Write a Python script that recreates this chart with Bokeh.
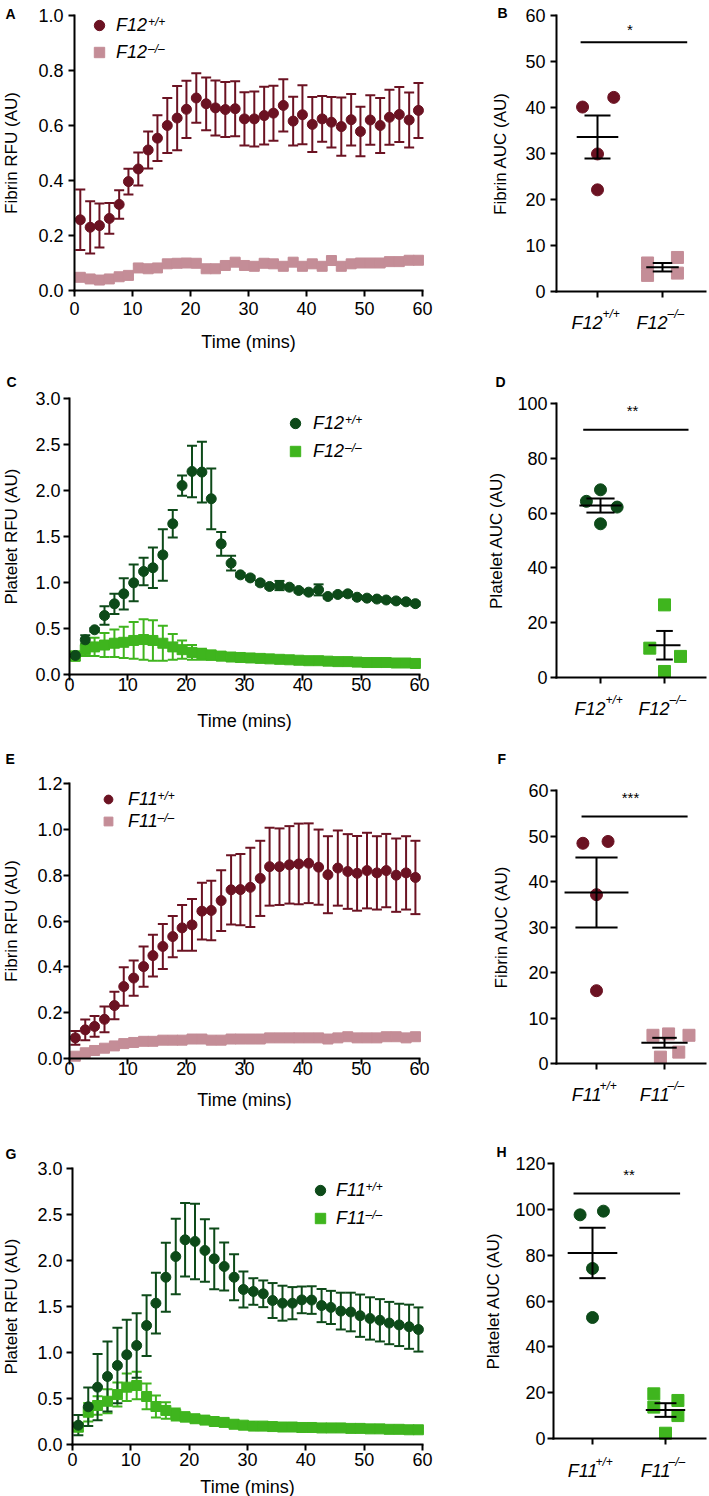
import numpy as np
from bokeh.plotting import figure
from bokeh.models import (Range1d, FixedTicker, NumeralTickFormatter, Whisker, TeeHead,
                          ColumnDataSource, Label, Legend, LegendItem)
from bokeh.layouts import row, column
from bokeh.embed import file_html
from bokeh.resources import INLINE

# ---------------- data ----------------
time_min = [1.0, 2.7, 4.3, 6.0, 7.7, 9.3, 11.0, 12.7, 14.3, 16.0, 17.7, 19.3,
            21.0, 22.7, 24.3, 26.0, 27.7, 29.3, 31.0, 32.7, 34.3, 36.0, 37.7, 39.3,
            41.0, 42.7, 44.3, 46.0, 47.7, 49.3, 51.0, 52.7, 54.3, 56.0, 57.7, 59.3]
time_ticks = [0, 10, 20, 30, 40, 50, 60]

# A: fibrin, F12
fib_f12_wt = [0.257, 0.230, 0.236, 0.262, 0.313, 0.396, 0.442, 0.511, 0.554, 0.600, 0.627, 0.659,
              0.700, 0.679, 0.664, 0.658, 0.661, 0.624, 0.624, 0.636, 0.645, 0.673, 0.616, 0.639,
              0.604, 0.624, 0.612, 0.596, 0.621, 0.578, 0.620, 0.600, 0.630, 0.640, 0.620, 0.655]
fib_f12_wt_sem = [0.110, 0.095, 0.080, 0.056, 0.052, 0.047, 0.060, 0.067, 0.083, 0.100, 0.117, 0.104,
                  0.090, 0.096, 0.100, 0.100, 0.100, 0.097, 0.100, 0.105, 0.100, 0.095, 0.089, 0.107,
                  0.100, 0.083, 0.092, 0.106, 0.094, 0.090, 0.090, 0.100, 0.100, 0.100, 0.100, 0.100]
fib_f12_ko = [0.048, 0.042, 0.038, 0.042, 0.050, 0.055, 0.082, 0.079, 0.082, 0.097, 0.099, 0.100,
              0.099, 0.079, 0.079, 0.091, 0.103, 0.091, 0.088, 0.099, 0.097, 0.088, 0.103, 0.088,
              0.097, 0.088, 0.109, 0.088, 0.097, 0.100, 0.100, 0.100, 0.105, 0.105, 0.110, 0.110]
fib_f12_ko_sem = [0.012] * 36
fib_f12_yticks = [0, 0.2, 0.4, 0.6, 0.8, 1.0]

# C: platelet, F12
plt_f12_wt = [0.207, 0.377, 0.486, 0.641, 0.768, 0.877, 0.996, 1.120, 1.160, 1.300, 1.638, 2.054,
              2.207, 2.200, 1.910, 1.420, 1.210, 1.083, 1.050, 0.996, 0.957, 0.967, 0.949, 0.913,
              0.895, 0.920, 0.848, 0.870, 0.877, 0.840, 0.830, 0.820, 0.810, 0.800, 0.790, 0.770]
plt_f12_wt_sem = [0.02, 0.05, 0.02, 0.10, 0.11, 0.17, 0.20, 0.15, 0.22, 0.28, 0.15, 0.11,
                  0.28, 0.33, 0.33, 0.13, 0.08, 0.02, 0.02, 0.02, 0.02, 0.05, 0.02, 0.02,
                  0.02, 0.06, 0.02, 0.02, 0.02, 0.02, 0.02, 0.02, 0.02, 0.02, 0.02, 0.02]
plt_f12_ko = [0.20, 0.27, 0.30, 0.32, 0.34, 0.35, 0.37, 0.38, 0.37, 0.34, 0.30, 0.27,
              0.24, 0.22, 0.21, 0.20, 0.19, 0.185, 0.18, 0.175, 0.17, 0.165, 0.16, 0.155,
              0.15, 0.15, 0.145, 0.14, 0.14, 0.135, 0.13, 0.13, 0.13, 0.125, 0.125, 0.12]
plt_f12_ko_sem = [0.05, 0.07, 0.10, 0.13, 0.15, 0.17, 0.20, 0.22, 0.22, 0.19, 0.14, 0.10,
                  0.08, 0.06, 0.05, 0.045, 0.04, 0.035, 0.03, 0.03, 0.03, 0.025, 0.025, 0.025,
                  0.02, 0.02, 0.02, 0.02, 0.02, 0.02, 0.02, 0.02, 0.02, 0.02, 0.02, 0.02]
plt_yticks = [0, 0.5, 1.0, 1.5, 2.0, 2.5, 3.0]

# E: fibrin, F11
fib_f11_wt = [0.090, 0.125, 0.140, 0.171, 0.231, 0.314, 0.351, 0.401, 0.449, 0.489, 0.532, 0.570,
              0.583, 0.643, 0.646, 0.689, 0.736, 0.737, 0.747, 0.786, 0.837, 0.837, 0.845, 0.849,
              0.852, 0.835, 0.802, 0.831, 0.816, 0.808, 0.820, 0.810, 0.820, 0.800, 0.810, 0.790]
fib_f11_wt_sem = [0.030, 0.045, 0.045, 0.056, 0.060, 0.084, 0.077, 0.088, 0.091, 0.098, 0.090, 0.100,
                  0.113, 0.124, 0.130, 0.133, 0.151, 0.155, 0.173, 0.164, 0.170, 0.167, 0.169, 0.176,
                  0.174, 0.164, 0.168, 0.164, 0.163, 0.163, 0.165, 0.160, 0.160, 0.160, 0.160, 0.160]
fib_f11_ko = [0.010, 0.025, 0.035, 0.045, 0.055, 0.065, 0.070, 0.075, 0.075, 0.080, 0.080, 0.080,
              0.085, 0.085, 0.080, 0.080, 0.085, 0.085, 0.085, 0.085, 0.090, 0.090, 0.090, 0.090,
              0.090, 0.090, 0.085, 0.090, 0.095, 0.090, 0.090, 0.090, 0.095, 0.095, 0.090, 0.095]
fib_f11_ko_sem = [0.010] * 6 + [0.015] * 30
fib_f11_yticks = [0, 0.2, 0.4, 0.6, 0.8, 1.0, 1.2]

# G: platelet, F11
plt_f11_wt = [0.210, 0.410, 0.623, 0.739, 0.859, 0.975, 1.076, 1.293, 1.536, 1.818, 2.043, 2.225,
              2.207, 2.109, 2.018, 1.935, 1.818, 1.685, 1.663, 1.638, 1.565, 1.536, 1.536, 1.572,
              1.570, 1.510, 1.490, 1.450, 1.440, 1.400, 1.370, 1.350, 1.320, 1.300, 1.280, 1.250]
plt_f11_wt_sem = [0.11, 0.21, 0.36, 0.38, 0.41, 0.38, 0.35, 0.33, 0.33, 0.376, 0.41, 0.40,
                  0.41, 0.34, 0.33, 0.26, 0.25, 0.195, 0.145, 0.145, 0.19, 0.19, 0.175, 0.145,
                  0.15, 0.18, 0.18, 0.20, 0.21, 0.23, 0.23, 0.23, 0.23, 0.23, 0.24, 0.24]
plt_f11_ko = [0.188, 0.351, 0.424, 0.470, 0.543, 0.623, 0.641, 0.522, 0.413, 0.370, 0.326, 0.300,
              0.280, 0.265, 0.250, 0.240, 0.220, 0.210, 0.200, 0.200, 0.195, 0.190, 0.190, 0.185,
              0.185, 0.180, 0.180, 0.180, 0.175, 0.175, 0.170, 0.170, 0.165, 0.165, 0.160, 0.160]
plt_f11_ko_sem = [0.04, 0.10, 0.10, 0.13, 0.13, 0.15, 0.15, 0.14, 0.12, 0.09, 0.065, 0.05,
                  0.04, 0.035, 0.03, 0.03, 0.025, 0.02, 0.02, 0.02, 0.02, 0.02, 0.02, 0.02,
                  0.02, 0.02, 0.02, 0.02, 0.02, 0.02, 0.02, 0.02, 0.02, 0.02, 0.02, 0.02]

# AUC panels (individual animals) and beeswarm offsets
auc_fib_f12_wt = [40.1, 42.2, 29.9, 22.1]
auc_fib_f12_wt_dx = [-0.23, 0.25, 0.0, 0.0]
auc_fib_f12_ko = [6.2, 3.5, 7.4, 4.0]
auc_fib_f12_ko_dx = [-0.23, -0.23, 0.23, 0.23]
auc_fib_yticks = [0, 10, 20, 30, 40, 50, 60]

auc_plt_f12_wt = [64.3, 68.5, 62.2, 56.1]
auc_plt_f12_wt_dx = [-0.22, 0.0, 0.26, 0.0]
auc_plt_f12_ko = [26.5, 10.7, 7.7, 2.2]
auc_plt_f12_ko_dx = [0.0, -0.23, 0.25, 0.0]
auc_plt_f12_yticks = [0, 20, 40, 60, 80, 100]

auc_fib_f11_wt = [48.4, 48.8, 37.1, 16.0]
auc_fib_f11_wt_dx = [-0.2, 0.17, 0.0, 0.0]
auc_fib_f11_ko = [6.2, 6.5, 6.2, 2.5, 1.4]
auc_fib_f11_ko_dx = [-0.17, 0.06, 0.36, 0.21, -0.06]

auc_plt_f11_wt = [97.6, 99.2, 74.2, 52.8]
auc_plt_f11_wt_dx = [-0.17, 0.15, 0.0, 0.0]
auc_plt_f11_ko = [19.5, 16.6, 13.7, 10.0, 2.3]
auc_plt_f11_ko_dx = [-0.16, 0.17, -0.16, 0.17, 0.0]
auc_plt_f11_yticks = [0, 20, 40, 60, 80, 100, 120]

sig_B, sig_D, sig_F, sig_H = 54.2, 90.4, 54.3, 106.9
stars_B, stars_D, stars_F, stars_H = "*", "**", "***", "**"

# ---------------- style / layout ----------------
FONT = "Liberation Sans"
DARK_RED = "#6B1222"
PINK = "#C48D97"
DARK_GREEN = "#0D4A19"
LIGHT_GREEN = "#3FB51E"
LW, RW = 453, 256
GENE_W = {"F12": 31.0, "F11": 28.5}  # visual width of the gene symbol at 18px italic


def lin(va, pa, vb, pb, o, size, flip=False):
    if not flip:
        s = (vb - va) / (pb - pa)
        return va + (o - pa) * s, va + (o + size - pa) * s
    s = (vb - va) / (pa - pb)
    return va - (o + size - pa) * s, va + (pa - o) * s


def make_fig(box, xmap, ymap, yticks, yfmt, ylabel, y_axis_px, y_std, ylab_std, x_end_px):
    ox, oy, W, H = box
    xr = lin(*xmap, ox, W)
    yr = lin(*ymap, oy, H, flip=True)
    p = figure(width=W, height=H, x_range=Range1d(*xr), y_range=Range1d(*yr),
               output_backend="svg", toolbar_location=None,
               min_border_left=0, min_border_right=0, min_border_top=0, min_border_bottom=0)
    p.outline_line_color = None
    p.xgrid.visible = False
    p.ygrid.visible = False
    for ax in p.axis:
        ax.axis_line_width = 2
        ax.axis_line_color = "black"
        ax.axis_line_cap = "square"
        ax.major_tick_line_width = 2
        ax.major_tick_line_color = "black"
        ax.major_tick_out = 6
        ax.major_tick_in = 0
        ax.minor_tick_line_color = None
        ax.major_label_text_font = FONT
        ax.major_label_text_font_size = "18px"
        ax.major_label_text_color = "black"
        ax.axis_label_text_font = FONT
        ax.axis_label_text_font_style = "normal"
        ax.axis_label_text_color = "black"
    va, pa, vb, pb = xmap
    x_axis_val = va + (y_axis_px - pa) * (vb - va) / (pb - pa)
    x_end_val = va + (x_end_px - pa) * (vb - va) / (pb - pa)
    p.yaxis.fixed_location = x_axis_val
    p.yaxis.bounds = (0, ymap[2])
    p.yaxis.ticker = FixedTicker(ticks=yticks)
    p.yaxis.formatter = NumeralTickFormatter(format=yfmt)
    p.yaxis.major_label_standoff = y_std
    p.yaxis.axis_label = ylabel
    p.yaxis.axis_label_text_font_size = "17px"
    p.yaxis.axis_label_standoff = ylab_std
    p.xaxis.fixed_location = 0
    p.xaxis.bounds = (x_axis_val, x_end_val)
    p._box = box
    return p


def scr(p, px, py):
    ox, oy, W, H = p._box
    return px - ox, (oy + H) - py


def letter(p, txt, px, py):
    x, y = scr(p, px, py - 3)
    p.add_layout(Label(x=x, y=y, x_units="screen", y_units="screen", text=txt,
                       text_font=FONT, text_font_size="14px", text_font_style="bold",
                       text_align="left", text_baseline="top", text_color="black"))


def time_panel(box, xmap, ymap, yticks, ylabel, y_std, ylab_std, x_std, xlab_std,
               wt, wt_sem, ko, ko_sem, c_wt, c_ko, gene, leg):
    p = make_fig(box, xmap, ymap, yticks, "0.0", ylabel, xmap[1], y_std, ylab_std, xmap[3])
    p.xaxis.ticker = FixedTicker(ticks=time_ticks)
    p.xaxis.axis_label = "Time (mins)"
    p.xaxis.axis_label_text_font_size = "18px"
    p.xaxis.major_label_standoff = x_std
    p.xaxis.axis_label_standoff = xlab_std
    t = np.array(time_min)
    for y, s, c in ((ko, ko_sem, c_ko), (wt, wt_sem, c_wt)):
        y = np.array(y)
        s = np.array(s)
        src = ColumnDataSource(dict(t=t, lo=y - s, hi=y + s))
        p.add_layout(Whisker(source=src, base="t", upper="hi", lower="lo", dimension="height",
                             line_color=c, line_width=2,
                             upper_head=TeeHead(size=10, line_color=c, line_width=2),
                             lower_head=TeeHead(size=10, line_color=c, line_width=2)))
    rends = {}
    for key, y, c, marker, size in (("ko", ko, c_ko, "square", 10), ("wt", wt, c_wt, "circle", 10)):
        src = ColumnDataSource(dict(t=t, y=np.array(y)))
        rends[key] = p.scatter("t", "y", source=src, marker=marker, size=size,
                               fill_color=c, line_color=c)
    # legend: key centre of first row (page px), glyph box, row spacing, label standoff
    kx, ky, gw, gh, sp, so = leg
    left = kx - gw / 2
    top = ky - gh / 2
    bottom = top + 2 * gh + sp
    lx, lyb = scr(p, left, bottom)
    legend = Legend(items=[LegendItem(label=gene, renderers=[rends["wt"]]),
                           LegendItem(label=gene, renderers=[rends["ko"]])],
                    location=(lx, lyb), padding=0, margin=0, spacing=sp,
                    glyph_width=gw, glyph_height=gh, label_height=gh, label_standoff=so,
                    border_line_color=None, background_fill_alpha=0,
                    label_text_font=FONT, label_text_font_size="18px",
                    label_text_font_style="italic", label_text_color="black")
    p.add_layout(legend)
    tx = left + gw + so + GENE_W[gene] + 0.5
    for k, sup in enumerate(("+/+", "\u2013/\u2013")):
        cy = ky + k * (gh + sp) - 4
        sx, sy = scr(p, tx, cy)
        p.add_layout(Label(x=sx, y=sy, x_units="screen", y_units="screen", text=sup,
                           text_font=FONT, text_font_size="12px", text_font_style="italic",
                           text_align="left", text_baseline="middle", text_color="black"))
    return p


def auc_panel(box, xmap, ymap, yticks, ylabel, y_axis_px, y_std, ylab_std,
              wt, wt_dx, ko, ko_dx, c_wt, c_ko, gene, stars, sig_y, sig_x, star_dy,
              widths, label_base_py):
    p = make_fig(box, xmap, ymap, yticks, "0", ylabel, y_axis_px, y_std, ylab_std, 705)
    p.xaxis.ticker = FixedTicker(ticks=[0, 1])
    p.xaxis.major_label_overrides = {0: " ", 1: " "}
    p.scatter(np.array(wt_dx) + 0, wt, marker="circle", size=12, fill_color=c_wt, line_color=c_wt)
    p.scatter(np.array(ko_dx) + 1, ko, marker="square", size=12, fill_color=c_ko, line_color=c_ko)
    for g, vals, (mw, cw) in ((0, wt, widths[0]), (1, ko, widths[1])):
        v = np.array(vals)
        m = v.mean()
        s = v.std(ddof=1) / np.sqrt(len(v))
        p.segment(x0=[g - mw, g, g - cw, g - cw], x1=[g + mw, g, g + cw, g + cw],
                  y0=[m, m - s, m + s, m - s], y1=[m, m + s, m + s, m - s],
                  line_color="black", line_width=2)
    p.segment(x0=[sig_x[0]], x1=[sig_x[1]], y0=[sig_y], y1=[sig_y], line_color="black", line_width=2)
    p.add_layout(Label(x=0.5, y=sig_y, y_offset=star_dy - 4, text=stars, text_font=FONT,
                       text_font_size="15px", text_align="center", text_baseline="middle",
                       text_color="black"))
    _, base_sy = scr(p, 0, label_base_py)
    _, sup_sy = scr(p, 0, label_base_py - 9)
    for g, sup in ((0, "+/+"), (1, "\u2013/\u2013")):
        p.add_layout(Label(x=g, y=base_sy, x_units="data", y_units="screen", x_offset=5, text=gene,
                           text_font=FONT, text_font_size="18px", text_font_style="italic",
                           text_align="right", text_baseline="alphabetic", text_color="black"))
        p.add_layout(Label(x=g, y=sup_sy, x_units="data", y_units="screen",
                           x_offset=5 if gene == "F12" else 3, text=sup,
                           text_font=FONT, text_font_size="12px", text_font_style="italic",
                           text_align="left", text_baseline="middle", text_color="black"))
    return p


pA = time_panel((0, 0, LW, 372), (0, 74, 60, 422), (0, 290, 1.0, 15), fib_f12_yticks,
                "Fibrin RFU (AU)", 5, 14, 5, 14,
                fib_f12_wt, fib_f12_wt_sem, fib_f12_ko, fib_f12_ko_sem, DARK_RED, PINK, "F12",
                (99, 25, 26, 26, 1, 4))
pB = auc_panel((LW, 0, RW, 372), (0, 597, 1, 662), (0, 291, 60, 15), auc_fib_yticks,
               "Fibrin AUC (AU)", 556, 5, 12,
               auc_fib_f12_wt, auc_fib_f12_wt_dx, auc_fib_f12_ko, auc_fib_f12_ko_dx,
               DARK_RED, PINK, "F12", stars_B, sig_B, (-0.26, 1.38), 17,
               ((0.32, 0.2), (0.25, 0.15)), 322)
pC = time_panel((0, 372, LW, 372), (0, 69, 60, 419), (0, 674, 3.0, 398), plt_yticks,
                "Platelet RFU (AU)", 3, 11, -3, 17,
                plt_f12_wt, plt_f12_wt_sem, plt_f12_ko, plt_f12_ko_sem, DARK_GREEN, LIGHT_GREEN,
                "F12", (295, 423, 26, 26, 2, 5))
pD = auc_panel((LW, 372, RW, 372), (0, 600, 1, 664), (0, 677, 100, 403), auc_plt_f12_yticks,
               "Platelet AUC (AU)", 556, 3, 8,
               auc_plt_f12_wt, auc_plt_f12_wt_dx, auc_plt_f12_ko, auc_plt_f12_ko_dx,
               DARK_GREEN, LIGHT_GREEN, "F12", stars_D, sig_D, (-0.27, 1.375), 23,
               ((0.33, 0.22), (0.25, 0.13)), 708)
pE = time_panel((0, 744, LW, 374), (0, 69, 60, 419), (0, 1058, 1.2, 783), fib_f11_yticks,
                "Fibrin RFU (AU)", 1, 13, -3, 12,
                fib_f11_wt, fib_f11_wt_sem, fib_f11_ko, fib_f11_ko_sem, DARK_RED, PINK, "F11",
                (108, 799, 26, 22, 0, 7))
pF = auc_panel((LW, 744, RW, 374), (0, 596, 1, 664), (0, 1063, 60, 790), auc_fib_yticks,
               "Fibrin AUC (AU)", 556, 2, 14,
               auc_fib_f11_wt, auc_fib_f11_wt_dx, auc_fib_f11_ko, auc_fib_f11_ko_dx,
               DARK_RED, PINK, "F11", stars_F, sig_F, (-0.22, 1.34), 23,
               ((0.47, 0.31), (0.34, 0.18)), 1094)
pG = time_panel((0, 1118, LW, 378), (0, 72, 60, 422), (0, 1444, 3.0, 1168), plt_yticks,
                "Platelet RFU (AU)", 4, 13, 2, 8,
                plt_f11_wt, plt_f11_wt_sem, plt_f11_ko, plt_f11_ko_sem, DARK_GREEN, LIGHT_GREEN,
                "F11", (320, 1190, 26, 26, 2, 3))
pH = auc_panel((LW, 1118, RW, 378), (0, 592, 1, 665), (0, 1438, 120, 1163), auc_plt_f11_yticks,
               "Platelet AUC (AU)", 553, 2, 9,
               auc_plt_f11_wt, auc_plt_f11_wt_dx, auc_plt_f11_ko, auc_plt_f11_ko_dx,
               DARK_GREEN, LIGHT_GREEN, "F11", stars_H, sig_H, (-0.26, 1.2), 23,
               ((0.34, 0.18), (0.27, 0.15)), 1470)

letter(pA, "A", 5, 8)
letter(pB, "B", 497, 7)
letter(pC, "C", 6, 376)
letter(pD, "D", 495, 376)
letter(pE, "E", 5, 753)
letter(pF, "F", 497, 753)
letter(pG, "G", 5, 1148)
letter(pH, "H", 496, 1146)

layout = column(row(pA, pB), row(pC, pD), row(pE, pF), row(pG, pH))
open("out.html", "w").write(file_html(layout, INLINE))
